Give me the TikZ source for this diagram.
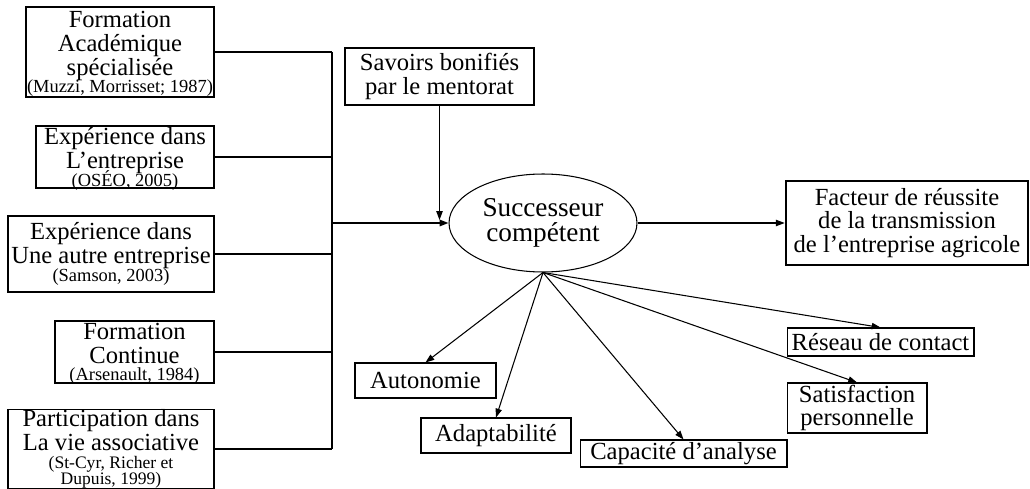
\documentclass[tikz,border=0pt]{standalone}
\usepackage{fontspec}
\setmainfont{Liberation Serif}
\usetikzlibrary{shapes.geometric,arrows.meta}

\newcommand{\refsize}{\fontsize{10.5}{8.6}\selectfont}
\newcommand{\refsmall}{\fontsize{10}{8.6}\selectfont}

\tikzset{
  bx/.style={draw, line width=0.6pt, rectangle, inner sep=0pt, align=center,
             font=\fontsize{14}{13.6}\selectfont},
  lowtext/.style={text depth=-3pt},
  thickbx/.style={bx, line width=1.5pt},
  conn/.style={line width=0.6pt},
  arr/.style={line width=0.6pt, -{Triangle[length=5pt,width=3.6pt]}},
}

\begin{document}
\begin{tikzpicture}[x=0.02cm, y=-0.02cm]
  \useasboundingbox (0,0) rectangle (1030,489);

  % sources of competence (left column)
  \node[bx, lowtext, minimum width=3.76cm, minimum height=1.8cm] (A) at (120,52)
    {Formation\\Académique\\spécialisée\\[-3.5pt]{\refsize (Muzzi, Morrisset; 1987)}};
  \node[bx, lowtext, minimum width=3.56cm, minimum height=1.24cm] (B) at (125,157)
    {Expérience dans\\L’entreprise\\[-3.5pt]{\refsize (OSÉO, 2005)}};
  \node[bx, minimum width=4.12cm, minimum height=1.52cm] (C) at (111,254)
    {Expérience dans\\Une autre entreprise\\[-3.5pt]{\refsize (Samson, 2003)}};
  \node[bx, lowtext, minimum width=3.18cm, minimum height=1.24cm] (D) at (134.5,352)
    {Formation\\Continue\\[-3.5pt]{\refsize (Arsenault, 1984)}};
  \node[bx, minimum width=4.12cm, minimum height=1.58cm] (E) at (111,449)
    {Participation dans\\La vie associative\\[-3.4pt]{\refsmall (St-Cyr, Richer et}\\[-4.4pt]{\refsmall Dupuis, 1999)}};

  % mentoring and the central successor
  \node[thickbx, minimum width=3.78cm, minimum height=1.14cm] (S) at (439.5,76.5)
    {Savoirs bonifiés\\par le mentorat};
  \node[draw, ellipse, line width=0.6pt, inner sep=0pt, align=center,
        font=\fontsize{15.5}{14.5}\selectfont,
        minimum width=3.76cm, minimum height=1.96cm] (K) at (543,223)
    {Successeur\\compétent};

  % outcome
  \node[thickbx, minimum width=4.84cm, minimum height=1.68cm] (F) at (907,223)
    {Facteur de réussite\\de la transmission\\de l’entreprise agricole};

  % attributes of the successor
  \node[bx, minimum width=2.82cm, minimum height=0.7cm] (au) at (425.5,380.5) {Autonomie};
  \node[bx, minimum width=3.0cm, minimum height=0.7cm] (ad) at (496,435.5) {Adaptabilité};
  \node[bx, minimum width=4.14cm, minimum height=0.54cm] (ca) at (683.5,453.5) {Capacité d’analyse};
  \node[bx, minimum width=3.74cm, minimum height=0.56cm] (re) at (880.5,342) {Réseau de contact};
  \node[bx, minimum width=2.8cm, minimum height=1.0cm] (sa) at (857,408) {Satisfaction\\personnelle};

  % collecting bus
  \coordinate (J) at (332,223);
  \coordinate (M) at (439.5,220);
  \foreach \n in {A,B,C,D,E}
    \draw[conn] (\n.east) -- (\n.east -| J);
  \draw[line width=0.9pt] (A.east -| J) -- (E.east -| J);
  \draw[arr, line width=1pt] (J) -- (K.west);
  \draw[arr] (S.south) -- (M);

  \draw[arr] (K.east) -- (F.west);

  \foreach \n in {au,ad,ca,re,sa}
    \draw[arr] (K.south) -- (\n.north);
\end{tikzpicture}
\end{document}
